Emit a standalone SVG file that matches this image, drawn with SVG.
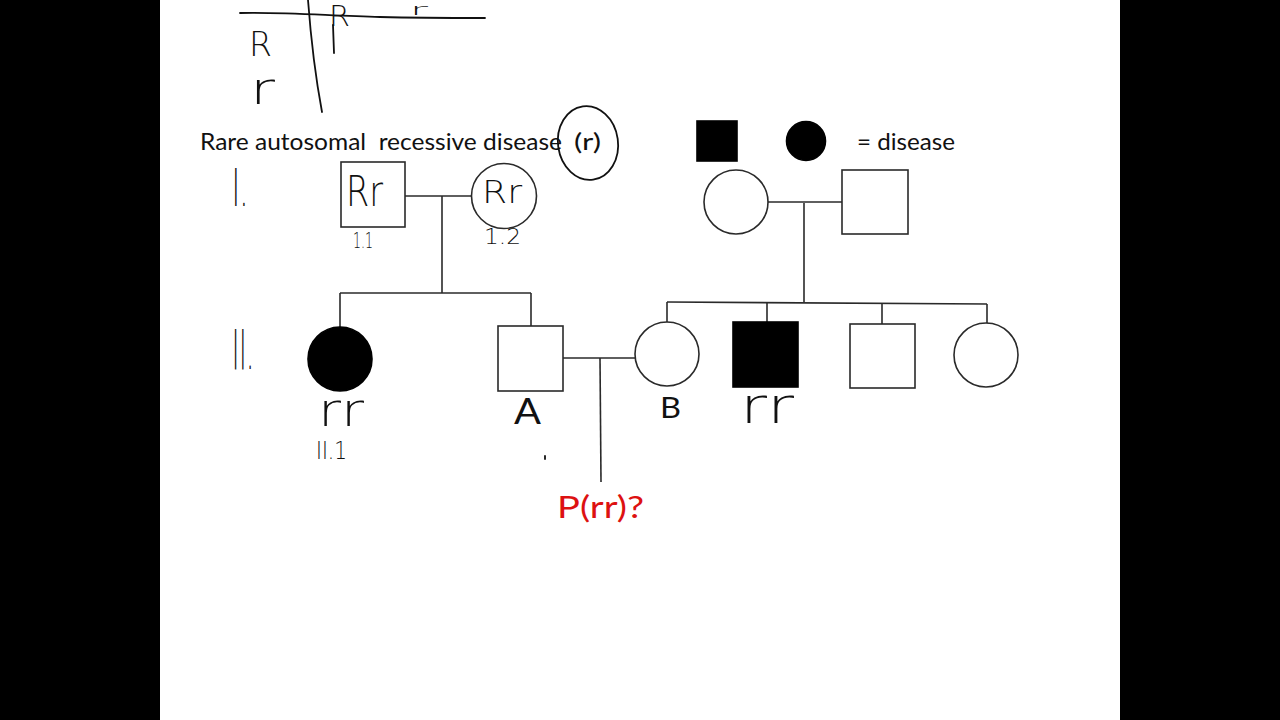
<svg xmlns="http://www.w3.org/2000/svg" width="1280" height="720" viewBox="0 0 1280 720">
<style>
.ln{fill:none;stroke:#2a2a2a;stroke-width:1.6}
.sh{fill:#fff;stroke:#2a2a2a;stroke-width:1.6}
.aff{fill:#000;stroke:#000;stroke-width:1.6}
.t{font-family:Lato,"Open Sans","Liberation Sans",sans-serif;fill:#111;white-space:pre}
.hw{font-family:"DejaVu Sans","Liberation Sans",sans-serif;font-weight:200;fill:#111}
.pen{fill:none;stroke:#111;stroke-width:1.8;stroke-linecap:round}
</style>
<rect x="0" y="0" width="1280" height="720" fill="#000"/>
<rect x="160" y="0" width="960" height="720" fill="#fff"/>

<g id="punnett">
<path class="pen" d="M240,13 C290,12 330,16 380,17 C420,18 460,18 485,18"/>
<path class="pen" d="M308,0 C311,40 316,80 322,112"/>
<path class="pen" d="M333,25 L334,53" stroke-width="3"/>
<text class="hw" x="329" y="26" font-size="29" textLength="21" lengthAdjust="spacingAndGlyphs">R</text>
<text class="hw" x="410" y="15" font-size="16" textLength="18" lengthAdjust="spacingAndGlyphs">r</text>
<text class="hw" x="249" y="56" font-size="34" textLength="23" lengthAdjust="spacingAndGlyphs">R</text>
<text class="hw" x="250" y="104" font-size="44" textLength="25" lengthAdjust="spacingAndGlyphs">r</text>
</g>

<g id="title">
<text class="t" x="200" y="150" font-size="23" textLength="362" lengthAdjust="spacingAndGlyphs" xml:space="preserve">Rare autosomal  recessive disease</text>
<text class="t" x="574" y="150" font-size="23" textLength="27" lengthAdjust="spacingAndGlyphs">(r)</text>
<ellipse class="pen" cx="588" cy="143" rx="30" ry="37" transform="rotate(-8 588 143)" stroke-width="1.5"/>
</g>

<g id="legend">
<rect class="aff" x="697" y="121" width="40" height="40"/>
<circle class="aff" cx="806" cy="141" r="19.5"/>
<text class="t" x="857" y="150" font-size="23" textLength="98" lengthAdjust="spacingAndGlyphs">= disease</text>
</g>

<g id="gen-labels">
<text class="hw" x="232" y="206" font-size="52" textLength="16" lengthAdjust="spacingAndGlyphs">I.</text>
<text class="hw" x="232" y="369" font-size="56" textLength="22" lengthAdjust="spacingAndGlyphs">II.</text>
</g>

<g id="connectors">
<path class="ln" d="M405,196 H472"/>
<path class="ln" d="M442,196 V293"/>
<path class="ln" d="M340,293 H531"/>
<path class="ln" d="M340,293 V327"/>
<path class="ln" d="M531,293 V326"/>
<path class="ln" d="M768,202 H842"/>
<path class="ln" d="M804,203 V302"/>
<path class="ln" d="M667,302 L987,304"/>
<path class="ln" d="M667,302 V323"/>
<path class="ln" d="M767,302.6 V322"/>
<path class="ln" d="M882,303.3 V324"/>
<path class="ln" d="M987,304 V323"/>
<path class="ln" d="M563,358 H635"/>
<path class="ln" d="M600,358 L601,482"/>
</g>

<g id="I-1">
<rect class="sh" x="341" y="162" width="64" height="65"/>
<text class="hw" x="346" y="206" font-size="42" textLength="37" lengthAdjust="spacingAndGlyphs">Rr</text>
<text class="hw" x="353" y="248" font-size="22" textLength="20" lengthAdjust="spacingAndGlyphs">1.1</text>
</g>

<g id="I-2">
<circle class="sh" cx="504" cy="196" r="32.5"/>
<text class="hw" x="482" y="203" font-size="32" textLength="40" lengthAdjust="spacingAndGlyphs">Rr</text>
<text class="hw" x="484" y="244" font-size="22" textLength="37" lengthAdjust="spacingAndGlyphs">1.2</text>
</g>

<g id="I-3">
<circle class="sh" cx="736" cy="202" r="32"/>
</g>

<g id="I-4">
<rect class="sh" x="842" y="170" width="66" height="64"/>
</g>

<g id="II-1">
<circle class="aff" cx="340" cy="359" r="32"/>
<text class="hw" x="318" y="426" font-size="46" textLength="46" lengthAdjust="spacingAndGlyphs">rr</text>
<text class="hw" x="316" y="459" font-size="25" textLength="31" lengthAdjust="spacingAndGlyphs">II.1</text>
</g>

<g id="A">
<rect class="sh" x="498" y="326" width="65" height="65"/>
<text class="t" x="514" y="424" font-size="36" textLength="27" lengthAdjust="spacingAndGlyphs">A</text>
</g>

<g id="B">
<circle class="sh" cx="667" cy="354" r="32"/>
<text class="t" x="660" y="418" font-size="29" textLength="21" lengthAdjust="spacingAndGlyphs">B</text>
</g>

<g id="II-sib1">
<rect class="aff" x="733" y="322" width="65" height="65"/>
<text class="hw" x="740" y="423" font-size="50" textLength="54" lengthAdjust="spacingAndGlyphs">rr</text>
</g>

<g id="II-sib2">
<rect class="sh" x="850" y="324" width="65" height="64"/>
</g>

<g id="II-sib3">
<circle class="sh" cx="986" cy="355" r="32"/>
</g>

<g id="question">
<path class="pen" d="M545,456 L545,459" stroke-width="1.5"/>
<text x="557" y="518" font-family="Lato,'Open Sans','Liberation Sans',sans-serif" font-size="30" fill="#dd1111" textLength="87" lengthAdjust="spacingAndGlyphs">P(rr)?</text>
</g>
</svg>
